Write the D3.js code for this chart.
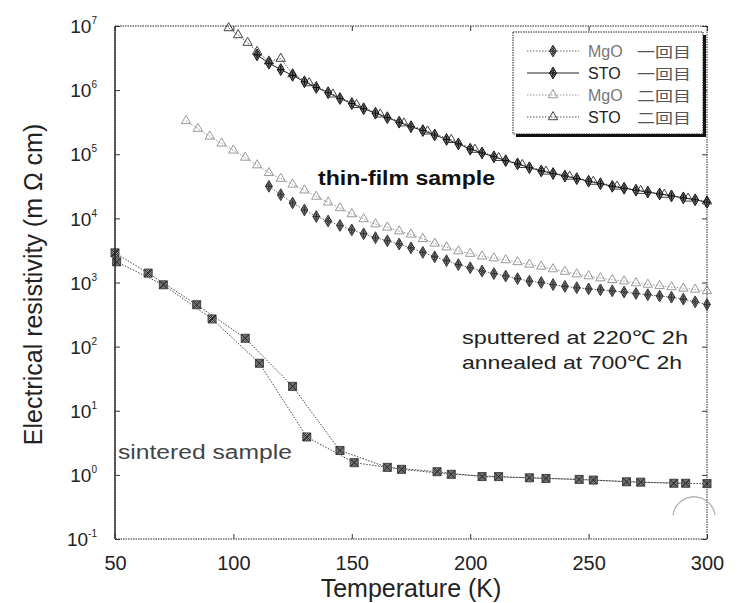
<!DOCTYPE html>
<html>
<head>
<meta charset="utf-8">
<script src="https://cdn.jsdelivr.net/npm/d3@7"></script>
<style>
  body { margin: 0; background: #fff; }
  svg { font-family: "Liberation Sans", Arial, sans-serif; }
</style>
</head>
<body>
<div id="chart"></div>
<script>
// ---- data ----
const xTicks = [50, 100, 150, 200, 250, 300];
const yTickExps = [-1, 0, 1, 2, 3, 4, 5, 6, 7];

// thin-film, STO, first run (solid line)
const stoRun1T = [110, 115, 120, 125, 130, 135, 140, 145, 150, 155, 160, 165, 170, 175, 180, 185, 190, 195, 200, 205,
  210, 215, 220, 225, 230, 235, 240, 245, 250, 255, 260, 265, 270, 275, 280, 285, 290, 295, 300];
const stoRun1R = [3550000, 2630000, 2090000, 1700000, 1350000, 1100000, 912000, 741000, 617000, 513000, 437000, 372000,
  316000, 269000, 234000, 200000, 170000, 145000, 120000, 105000, 91200, 79400, 70800, 61700, 55000, 50100, 45700,
  41700, 38000, 34700, 31600, 29500, 27500, 25700, 24000, 22400, 20900, 19500, 17800];

// thin-film, STO, second run
const stoRun2T = [98, 102, 106, 110, 115, 120, 125, 132, 142, 152, 162, 172, 182, 192, 202, 212, 222, 232, 242, 252,
  262, 272, 282, 292, 300];
const stoRun2R = [9300000, 7240000, 5500000, 3980000, 2820000, 3100000, 1780000, 1290000, 860000, 590000, 420000,
  305000, 228000, 168000, 118000, 88000, 68500, 54000, 45000, 37500, 31500, 27000, 23500, 20500, 18500];

// thin-film, MgO, first run
const mgoRun1T = [115, 120, 125, 130, 135, 140, 145, 150, 155, 160, 165, 170, 175, 180, 185, 190, 195, 200, 205, 210,
  215, 220, 225, 230, 235, 240, 245, 250, 255, 260, 265, 270, 275, 280, 285, 290, 295, 300];
const mgoRun1R = [31600, 23400, 17400, 13500, 10700, 9100, 7760, 6600, 5750, 5000, 4470, 3980, 3470, 2950, 2510, 2190,
  1900, 1700, 1510, 1380, 1260, 1150, 1050, 1000, 930, 870, 830, 795, 770, 740, 710, 675, 645, 615, 590, 550, 500, 455];

// thin-film, MgO, second run
const mgoRun2T = [80, 85, 90, 95, 100, 105, 110, 115, 120, 125, 130, 135, 140, 145, 150, 155, 160, 165, 170, 175, 180,
  185, 190, 195, 200, 205, 210, 215, 220, 225, 230, 235, 240, 245, 250, 255, 260, 265, 270, 275, 280, 285, 290, 295, 300];
const mgoRun2R = [331000, 251000, 190000, 148000, 115000, 89000, 67600, 51300, 41700, 33900, 27500, 21900, 17800,
  14500, 11700, 9770, 8130, 7240, 6310, 5620, 4790, 4070, 3550, 3090, 2820, 2570, 2400, 2240, 2090, 1910, 1780, 1620,
  1480, 1350, 1260, 1170, 1100, 1050, 980, 930, 890, 850, 810, 780, 740];

// sintered sample, two runs
const sinterAT = [50.7, 70.4, 91, 111, 131, 151, 171, 192, 212, 232, 252, 272, 291];
const sinterAR = [2100, 920, 270, 55, 3.9, 1.55, 1.22, 1.02, 0.94, 0.88, 0.83, 0.77, 0.74];
const sinterBT = [50, 64, 84.5, 105, 125, 145, 165, 186, 205, 225, 246, 266, 286, 300];
const sinterBR = [2900, 1400, 450, 135, 24, 2.4, 1.31, 1.12, 0.94, 0.9, 0.85, 0.78, 0.74, 0.73];

const legendNames = ["MgO", "STO", "MgO", "STO"];
const legendRuns = ["一回目", "一回目", "二回目", "二回目"];

// ---- layout ----
const width = 740, height = 603;
const margin = {top: 26, right: 33, bottom: 64, left: 115};
const innerW = width - margin.left - margin.right;
const innerH = height - margin.top - margin.bottom;

const svg = d3.select("#chart").append("svg")
  .attr("width", width)
  .attr("height", height);

const defs = svg.append("defs");
const hatch = defs.append("pattern")
  .attr("id", "hatch").attr("width", 2).attr("height", 2)
  .attr("patternUnits", "userSpaceOnUse");
hatch.append("rect").attr("width", 2).attr("height", 2).attr("fill", "#bbb");
hatch.append("rect").attr("width", 1).attr("height", 1).attr("fill", "#222");
hatch.append("rect").attr("x", 1).attr("y", 1).attr("width", 1).attr("height", 1).attr("fill", "#222");

const g = svg.append("g").attr("transform", `translate(${margin.left},${margin.top})`);

const x = d3.scaleLinear().domain([50, 300]).range([0, innerW]);
const y = d3.scaleLog().domain([0.1, 1e7]).range([innerH, 0]);

// series styles
const series = [
  {t: stoRun2T, r: stoRun2R, shape: "tri", stroke: "#444", fill: "none", line: "#555", dash: "1.5,1.5"},
  {t: mgoRun2T, r: mgoRun2R, shape: "tri", stroke: "#999", fill: "none", line: "#999", dash: "1.5,1.5"},
  {t: mgoRun1T, r: mgoRun1R, shape: "dia", stroke: "#333", fill: "url(#hatch)", line: "#666", dash: "1.5,1.5"},
  {t: stoRun1T, r: stoRun1R, shape: "dia", stroke: "#111", fill: "url(#hatch)", line: "#222", dash: null},
  {t: sinterAT, r: sinterAR, shape: "sq", stroke: "#444", fill: "url(#hatch)", line: "#444", dash: "1.5,1.5"},
  {t: sinterBT, r: sinterBR, shape: "sq", stroke: "#444", fill: "url(#hatch)", line: "#444", dash: "1.5,1.5"}
];

const symbolPath = {
  tri: d3.symbol().type(d3.symbolTriangle).size(38)(),
  dia: d3.symbol().type(d3.symbolDiamond).size(40)(),
  sq: d3.symbol().type(d3.symbolSquare).size(64)()
};

const line = d3.line()
  .x(d => x(d[0]))
  .y(d => y(d[1]));

function drawMarker(sel, s) {
  sel.append("path")
    .attr("d", symbolPath[s.shape])
    .attr("fill", s.fill)
    .attr("stroke", s.stroke)
    .attr("stroke-width", 1);
  if (s.shape === "dia") {
    sel.append("path").attr("d", "M-3.5,0H3.5M0,-3.5V3.5")
      .attr("stroke", s.stroke).attr("stroke-width", 1.1);
  }
  if (s.shape === "sq") {
    sel.append("path").attr("d", "M-4,-4L4,4M4,-4L-4,4")
      .attr("stroke", "#222").attr("stroke-width", 1);
  }
}

const plot = g.append("g");
series.forEach(s => {
  const pts = s.t.map((t, i) => [t, s.r[i]]);
  plot.append("path")
    .datum(pts)
    .attr("fill", "none")
    .attr("stroke", s.line)
    .attr("stroke-width", 1)
    .attr("stroke-dasharray", s.dash)
    .attr("d", line);
  plot.selectAll(null)
    .data(pts)
    .enter()
    .append("g")
    .attr("transform", d => `translate(${x(d[0])},${y(d[1])})`)
    .each(function() { drawMarker(d3.select(this), s); });
});

// frame
g.append("rect")
  .attr("width", innerW).attr("height", innerH)
  .attr("fill", "none").attr("stroke", "#222")
  .attr("stroke-width", 1).attr("stroke-dasharray", "1.5,1");
g.append("line").attr("x1", 0).attr("x2", 0).attr("y1", 0).attr("y2", innerH)
  .attr("stroke", "#222").attr("stroke-width", 1.3);

// axes
const yVals = yTickExps.map(e => Math.pow(10, e));
const xAxis = g.append("g").attr("transform", `translate(0,${innerH})`)
  .call(d3.axisBottom(x).tickValues(xTicks).tickSize(-5).tickPadding(17).tickFormat(d3.format("d")));
const xAxisTop = g.append("g")
  .call(d3.axisTop(x).tickValues(xTicks).tickSize(-5).tickFormat(""));
const yAxis = g.append("g")
  .call(d3.axisLeft(y).tickValues(yVals).tickSize(-5).tickPadding(18).tickFormat(""));
const yAxisR = g.append("g").attr("transform", `translate(${innerW},0)`)
  .call(d3.axisRight(y).tickValues(yVals).tickSize(-5).tickFormat(""));

[xAxis, xAxisTop, yAxis, yAxisR].forEach(a => {
  a.select(".domain").remove();
  a.selectAll(".tick line").attr("stroke", "#333");
});

xAxis.selectAll("text")
  .attr("font-size", 20).attr("fill", "#222")
  .attr("font-family", "Liberation Sans, Arial, sans-serif");

yAxis.selectAll(".tick text")
  .attr("font-family", "Liberation Sans, Arial, sans-serif")
  .attr("fill", "#222")
  .each(function(d) {
    const t = d3.select(this);
    t.append("tspan").attr("font-size", 19).attr("dy", "0.35em").text("10");
    t.append("tspan").attr("font-size", 10).attr("dy", "-0.9em").text(Math.round(Math.log10(d)));
  })
  .attr("dy", null);

// axis titles
svg.append("text")
  .attr("transform", `translate(42,${margin.top + innerH / 2 + 2}) rotate(-90)`)
  .attr("text-anchor", "middle")
  .attr("font-size", 25).attr("fill", "#222")
  .text("Electrical resistivity (m Ω cm)");

svg.append("text")
  .attr("x", margin.left + innerW / 2).attr("y", 597)
  .attr("text-anchor", "middle")
  .attr("font-size", 25).attr("fill", "#222")
  .text("Temperature (K)");

// annotations
g.append("text").attr("x", 318 - margin.left).attr("y", 185 - margin.top)
  .attr("font-size", 20).attr("font-weight", "bold").attr("fill", "#111")
  .attr("textLength", 177).attr("lengthAdjust", "spacingAndGlyphs")
  .text("thin-film sample");
g.append("text").attr("x", 462 - margin.left).attr("y", 344 - margin.top)
  .attr("font-size", 19).attr("fill", "#222")
  .attr("textLength", 226).attr("lengthAdjust", "spacingAndGlyphs")
  .text("sputtered at 220℃  2h");
g.append("text").attr("x", 462 - margin.left).attr("y", 369 - margin.top)
  .attr("font-size", 19).attr("fill", "#222")
  .attr("textLength", 220).attr("lengthAdjust", "spacingAndGlyphs")
  .text("annealed at 700℃ 2h");
g.append("text").attr("x", 118 - margin.left).attr("y", 459 - margin.top)
  .attr("font-size", 20).attr("fill", "#444")
  .attr("textLength", 174).attr("lengthAdjust", "spacingAndGlyphs")
  .text("sintered sample");

// scan artefact arc near bottom right
svg.append("path")
  .attr("transform", "translate(694,518)")
  .attr("d", d3.arc()({innerRadius: 21, outerRadius: 21.5, startAngle: -Math.PI / 2.2, endAngle: Math.PI / 2.2}))
  .attr("fill", "#999").attr("stroke", "#aaa").attr("stroke-width", 0.6);

// legend
const lg = svg.append("g").attr("transform", "translate(513,32)");
lg.append("rect").attr("x", 3).attr("y", 3).attr("width", 190).attr("height", 102).attr("fill", "#111");
lg.append("rect").attr("width", 190).attr("height", 102).attr("fill", "#fff")
  .attr("stroke", "#222").attr("stroke-width", 1).attr("stroke-dasharray", "1.5,1");
const legendStyle = [series[2], series[3], series[1], series[0]];
legendNames.forEach((name, i) => {
  const s = legendStyle[i];
  const row = lg.append("g").attr("transform", `translate(0,${19 + i * 22})`);
  row.append("line").attr("x1", 14).attr("x2", 66)
    .attr("stroke", s.line).attr("stroke-dasharray", s.dash);
  drawMarker(row.append("g").attr("transform", "translate(40,0)"), s);
  row.append("text").attr("x", 75).attr("y", 6)
    .attr("font-size", 16).attr("fill", name === "MgO" ? "#777" : "#222")
    .text(name);
  row.append("text").attr("x", 124).attr("y", 6)
    .attr("font-family", "Noto Sans CJK JP")
    .attr("font-size", 14).attr("fill", "#555")
    .attr("textLength", 54).attr("lengthAdjust", "spacingAndGlyphs")
    .text(legendRuns[i]);
});
</script>
</body>
</html>
